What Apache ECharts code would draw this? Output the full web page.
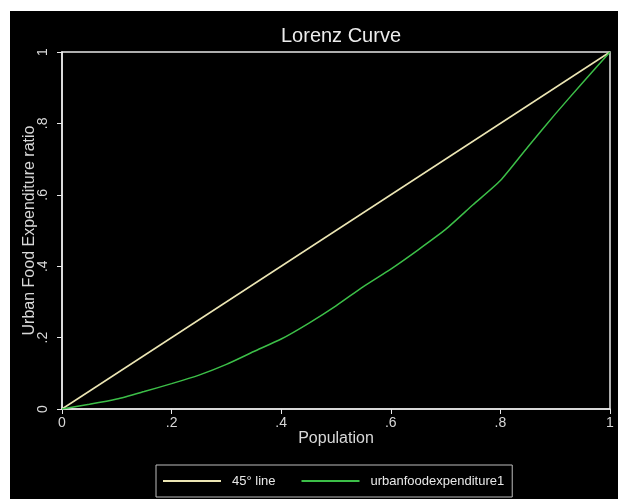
<!DOCTYPE html>
<html>
<head>
<meta charset="utf-8">
<script src="https://cdn.jsdelivr.net/npm/echarts@6/dist/echarts.min.js"></script>
<style>
html,body{margin:0;padding:0;background:#fff;}
#chart{width:618px;height:499px;}
</style>
</head>
<body>
<div id="chart"></div>
<script>
// Data
var popShare = [0, 0.05, 0.10, 0.15, 0.20, 0.25, 0.30, 0.35, 0.40, 0.45, 0.50, 0.55, 0.60, 0.65, 0.70, 0.75, 0.80, 0.85, 0.90, 0.95, 1.00];
var foodShare = [0, 0.013, 0.028, 0.049, 0.071, 0.095, 0.125, 0.161, 0.196, 0.240, 0.289, 0.343, 0.392, 0.446, 0.503, 0.572, 0.640, 0.734, 0.826, 0.914, 1.00];
var diagX = [0, 1];
var diagY = [0, 1];
var seriesNames = ['45° line', 'urbanfoodexpenditure1'];
var titleText = 'Lorenz Curve';
var xTitle = 'Population';
var yTitle = 'Urban Food Expenditure ratio';

function fmt(v) {
  if (Math.abs(v) < 1e-9) return '0';
  if (Math.abs(v - 1) < 1e-9) return '1';
  return v.toFixed(1).replace(/^0/, '');
}

var chart = echarts.init(document.getElementById('chart'), null, {renderer: 'canvas'});
var font = "'Liberation Sans', Arial, sans-serif";
var labelColor = '#d8d8d8';
var diagColor = '#ece6b4';
var curveColor = '#3cbf48';

chart.setOption({
  backgroundColor: '#000',
  animation: false,
  textStyle: {fontFamily: font},
  graphic: [
    {type: 'rect', left: 0, top: 0, shape: {width: 618, height: 11}, style: {fill: '#fff'}, z: 100},
    {type: 'rect', left: 0, top: 0, shape: {width: 10, height: 499}, style: {fill: '#fff'}, z: 100}
  ],
  title: {
    text: titleText,
    left: 336, top: 21, textAlign: 'center',
    textStyle: {color: '#ececec', fontSize: 20, fontWeight: 'normal', fontFamily: font}
  },
  legend: {
    left: 156, top: 465,
    padding: [8, 8, 8, 7],
    itemGap: 26,
    icon: 'rect',
    itemWidth: 58, itemHeight: 2,
    borderColor: '#bdbdbd', borderWidth: 1,
    textStyle: {color: '#e8e8e8', fontSize: 13, fontFamily: font, padding: [0, 0, 0, 6], lineHeight: 16},
    data: [
      {name: seriesNames[0], itemStyle: {color: diagColor}},
      {name: seriesNames[1], itemStyle: {color: curveColor}}
    ]
  },
  grid: {left: 62, right: 8, top: 52, bottom: 90, show: true, borderColor: '#e8e8e8', borderWidth: 1.5, outerBoundsMode: 'none', containLabel: false},
  xAxis: {
    type: 'value', min: 0, max: 1, interval: 0.2,
    name: xTitle, nameLocation: 'middle', nameGap: 22, nameMoveOverlap: false,
    nameTextStyle: {color: labelColor, fontSize: 16, fontFamily: font},
    axisLine: {show: true, lineStyle: {color: '#e8e8e8', width: 1.5}},
    axisTick: {show: true, inside: false, length: 5, lineStyle: {color: '#e8e8e8'}},
    axisLabel: {color: labelColor, fontSize: 14, margin: 7, formatter: fmt, fontFamily: font},
    splitLine: {show: false}
  },
  yAxis: {
    type: 'value', min: 0, max: 1, interval: 0.2,
    name: yTitle, nameLocation: 'middle', nameGap: 24, nameMoveOverlap: false,
    nameTextStyle: {color: labelColor, fontSize: 16, fontFamily: font},
    axisLine: {show: true, lineStyle: {color: '#e8e8e8', width: 1.5}},
    axisTick: {show: true, inside: false, length: 5, lineStyle: {color: '#e8e8e8'}},
    axisLabel: {color: labelColor, fontSize: 14, margin: 12, rotate: 90, formatter: fmt, fontFamily: font},
    splitLine: {show: false}
  },
  series: [
    {
      name: seriesNames[0], type: 'line', showSymbol: false, symbol: 'none',
      data: diagX.map(function (x, i) { return [x, diagY[i]]; }),
      lineStyle: {color: diagColor, width: 1.5},
      itemStyle: {color: diagColor}
    },
    {
      name: seriesNames[1], type: 'line', showSymbol: false, symbol: 'none', smooth: 0.2,
      data: popShare.map(function (x, i) { return [x, foodShare[i]]; }),
      lineStyle: {color: curveColor, width: 1.5},
      itemStyle: {color: curveColor}
    }
  ]
});
</script>
</body>
</html>
